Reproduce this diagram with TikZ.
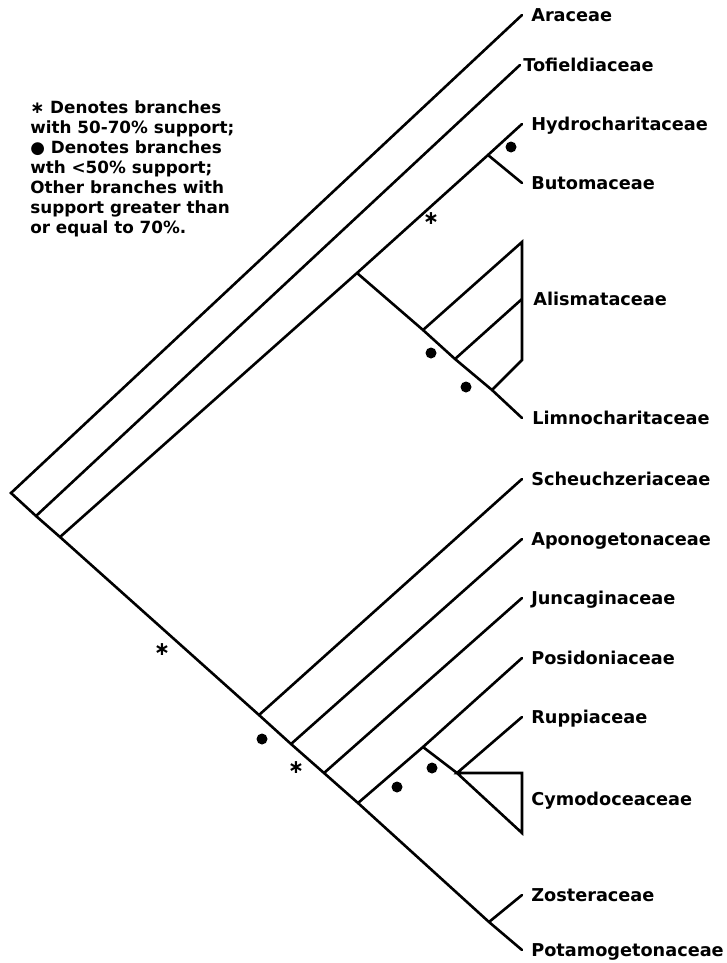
\documentclass[tikz,border=0pt]{standalone}
\usepackage{fontspec}
\setmainfont{DejaVu Sans}
\usetikzlibrary{positioning}

\tikzset{
  taxon/.style={font=\bfseries\fontsize{17.7}{20}\selectfont, inner sep=0pt,
    text height=12.8pt, text depth=0pt, anchor=west},
  lowsup/.style={circle, fill, inner sep=0pt, minimum size=11pt},
  midsup/.style={inner sep=0pt, font=\bfseries\fontsize{19}{20}\selectfont},
}

\begin{document}
\begin{tikzpicture}[x=1pt, y=-1pt, line width=2.6pt, line cap=round]
    \useasboundingbox (0, 0) rectangle (726, 963);

    % spine nodes
    \coordinate (root) at (11, 493);
    \coordinate (n1) at (36, 516);
    \coordinate (n2) at (60, 537);
    \coordinate (s1) at (259, 715);
    \coordinate (s2) at (291, 744);
    \coordinate (s3) at (324, 773);
    \coordinate (s4) at (358, 803);
    \coordinate (s5) at (489, 922);

    % upper clade
    \coordinate (h1) at (357, 273);
    \coordinate (h2) at (488, 155);
    \coordinate (a1) at (423, 330);
    \coordinate (a2) at (455, 359);
    \coordinate (a3) at (492, 390);

    % lower clade
    \coordinate (c1) at (423, 747);
    \coordinate (c2) at (457, 773);

    % tips
    \coordinate (araT) at (522, 15);
    \coordinate (tofT) at (520, 65);
    \coordinate (hydT) at (522, 124);
    \coordinate (butT) at (522, 183);
    \coordinate (alisT) at (522, 242);
    \coordinate (alisM) at (522, 299);
    \coordinate (alisB) at (522, 360);
    \coordinate (limT) at (522, 418);
    \coordinate (schT) at (522, 479);
    \coordinate (apoT) at (522, 539);
    \coordinate (junT) at (522, 598);
    \coordinate (posT) at (522, 658);
    \coordinate (rupT) at (522, 717);
    \coordinate (cymT) at (522, 773);
    \coordinate (cymM) at (522, 799);
    \coordinate (cymB) at (522, 833);
    \coordinate (zosT) at (522, 895);
    \coordinate (potT) at (522, 950);

    \node[taxon, right=8pt of araT] (ara) {Araceae};
    \node[taxon, right=2pt of tofT] (tof) {Tofieldiaceae};
    \node[taxon, right=8pt of hydT] (hyd) {Hydrocharitaceae};
    \node[taxon, right=8pt of butT] (but) {Butomaceae};
    \node[taxon, right=10pt of alisM] (alis) {Alismataceae};
    \node[taxon, right=9pt of limT] (lim) {Limnocharitaceae};
    \node[taxon, right=8pt of schT] (sch) {Scheuchzeriaceae};
    \node[taxon, right=8pt of apoT] (apo) {Aponogetonaceae};
    \node[taxon, right=8pt of junT] (jun) {Juncaginaceae};
    \node[taxon, right=8pt of posT] (pos) {Posidoniaceae};
    \node[taxon, right=8pt of rupT] (rup) {Ruppiaceae};
    \node[taxon, right=8pt of cymM] (cym) {Cymodoceaceae};
    \node[taxon, right=8pt of zosT] (zos) {Zosteraceae};
    \node[taxon, right=8pt of potT] (pot) {Potamogetonaceae};

    \draw (araT)
    -- (root)
    -- (n1)
    -- (n2)
    -- (s1)
    -- (s2)
    -- (s3)
    -- (s4)
    -- (s5)
    -- (potT);

    \draw (n1)
    -- (tofT);

    \draw (n2)
    -- (h1)
    -- (h2)
    -- (hydT);
    \draw (h2)
    -- (butT);

    \draw (h1)
    -- (a1)
    -- (a2)
    -- (a3)
    -- (limT);
    \draw (a1)
    -- (alisT)
    -- (alisB)
    -- (a3);
    \draw (a2)
    -- (alisM);

    \draw (s1)
    -- (schT);
    \draw (s2)
    -- (apoT);
    \draw (s3)
    -- (junT);

    \draw (s4)
    -- (c1)
    -- (posT);
    \draw (c1)
    -- (c2)
    -- (cymB)
    -- (cymT)
    -- (c2)
    -- (rupT);

    \draw (s5)
    -- (zosT);

    % support marks
    \node[midsup] (m1) at (431, 219) {∗};
    \node[midsup] (m2) at (162, 650) {∗};
    \node[midsup] (m3) at (296, 768) {∗};
    \node[lowsup] (d1) at (511, 147) {};
    \node[lowsup] (d2) at (431, 353) {};
    \node[lowsup] (d3) at (466, 387) {};
    \node[lowsup] (d4) at (262, 739) {};
    \node[lowsup] (d5) at (397, 787) {};
    \node[lowsup] (d6) at (432, 768) {};

    \node[anchor=north west, inner sep=0pt, align=left,
      font=\bfseries\fontsize{16.8}{20}\selectfont] (legend) at (29, 99)
      {∗ Denotes branches\\with 50-70\% support;\\● Denotes branches\\wth <50\% support;\\Other branches with\\support greater than\\or equal to 70\%.};

  \end{tikzpicture}
\end{document}
